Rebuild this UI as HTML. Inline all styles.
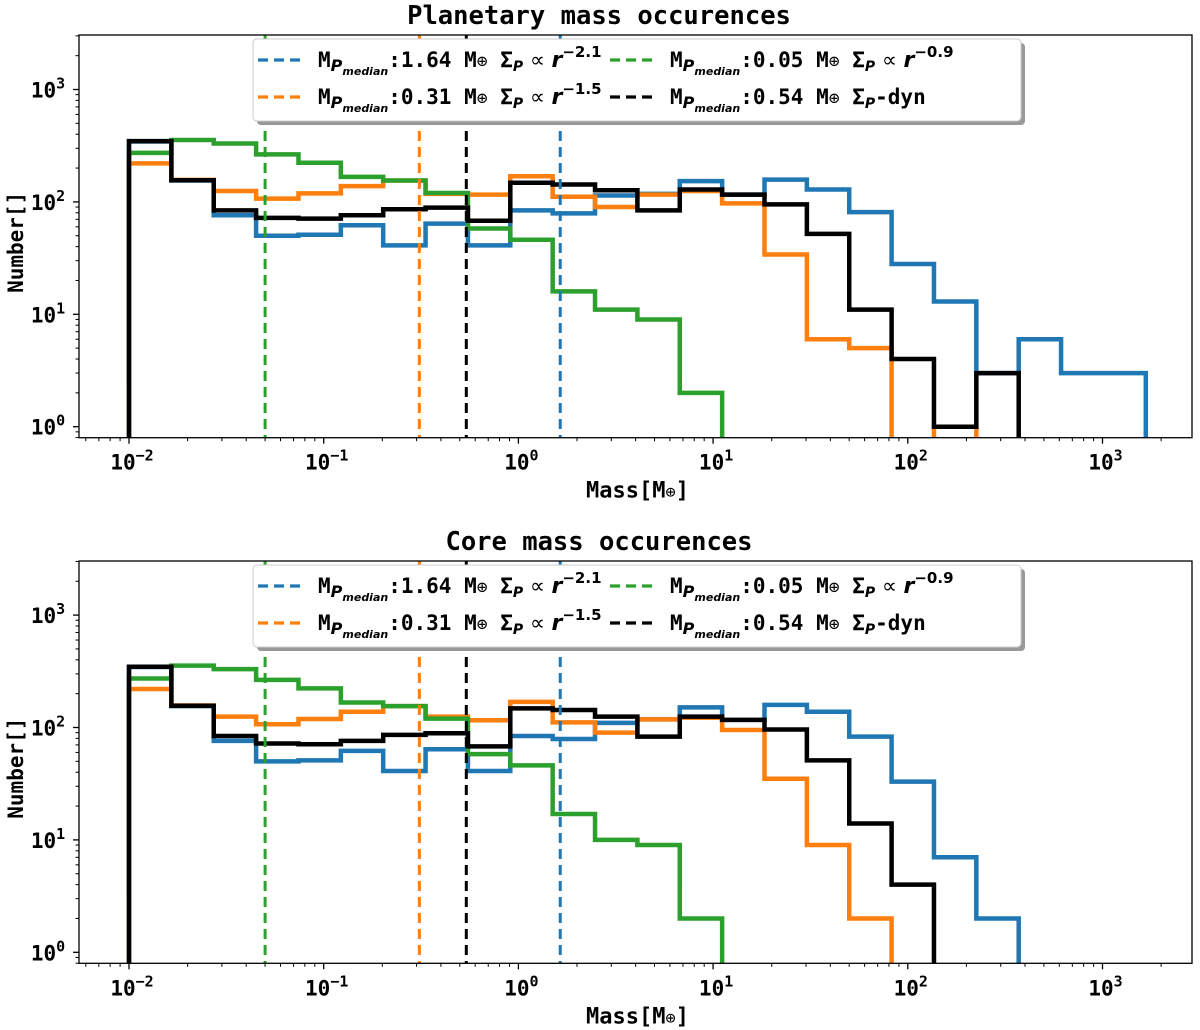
<!DOCTYPE html>
<html><head><meta charset="utf-8"><style>
body{margin:0;background:#fff;}
svg{display:block;font-family:"DejaVu Sans Mono","Liberation Mono",monospace;font-weight:bold;}
</style></head><body>
<svg id="fig" width="1200" height="1030" viewBox="0 0 1200 1030" xmlns="http://www.w3.org/2000/svg"></svg>
<script>
const colors = ['#1f77b4','#ff7f0e','#2ca02c','#000000'];
const seriesNames = ['blue','orange','green','black'];
const medians = [1.64, 0.31, 0.05, 0.54];
const exponents = ['\u22122.1','\u22121.5','\u22120.9','dyn'];
const xTickLabels = ['-2','-1','0','1','2','3'];
const yTickLabels = ['0','1','2','3'];
const panelTitles = ['Planetary mass occurences','Core mass occurences'];
const topBlue   = [345,155,76,50,51,62,41,64,41,84,79,114,118,153,116,158,129,81,28,13,3,6,3,3];
const topOrange = [220,157,125,107,119,138,155,118,116,169,111,90,116,125,97,34,6,5,0,1,0,0,0,0];
const topGreen  = [273,355,331,265,223,167,155,120,58,46,16,11,9,2,0,0,0,0,0,0,0,0,0,0];
const topBlack  = [347,156,84,72,71,76,86,89,68,148,143,127,84,129,116,95,52,11,4,1,3,0,0,0];
const botBlue   = [345,155,76,50,51,62,41,64,41,84,79,110,118,151,117,159,138,83,33,7,2,0,0,0];
const botOrange = [220,157,125,107,119,138,155,125,116,169,111,90,118,122,95,35,9,2,0,0,0,0,0,0];
const botGreen  = [273,355,331,265,223,167,155,120,58,46,17,10,9,2,0,0,0,0,0,0,0,0,0,0];
const botBlack  = [347,156,84,72,71,76,86,89,68,148,143,125,83,125,117,96,51,14,4,0,0,0,0,0];
const binLogStart = -2, binLogWidth = 0.2176, nBins = 24;

const NS='http://www.w3.org/2000/svg';
const svg=document.getElementById('fig');
function mk(tag,attrs,parent){const e=document.createElementNS(NS,tag);for(const k in attrs)e.setAttribute(k,attrs[k]);(parent||svg).appendChild(e);return e;}
const L=79,R=1192;
function xs(m){return 129+194.7*(Math.log10(m)+2);}
const panels=[{top:35,bot:437.7,y0:426.7,data:[topBlue,topOrange,topGreen,topBlack]},
              {top:561,bot:963.3,y0:952.3,data:[botBlue,botOrange,botGreen,botBlack]}];
panels.forEach((p,pi)=>{
  const ys=v=>v<=0?p.bot+20:p.y0-112.4*Math.log10(v);
  const g=mk('g',{});
  
  
  const cid='clip'+pi;
  const cp=mk('clipPath',{id:cid},g);mk('rect',{x:L,y:p.top,width:R-L,height:p.bot-p.top},cp);
  const t=mk('text',{x:599,y:p.top-11,'text-anchor':'middle','font-size':'25.5'},g);t.textContent=panelTitles[pi];
  
  
  const plot=mk('g',{'clip-path':'url(#'+cid+')'},g);
  p.data.forEach((vals,si)=>{
    const edges=[];for(let k=0;k<=nBins;k++)edges.push(xs(Math.pow(10,binLogStart+k*binLogWidth)));
    let last=nBins-1;while(last>0&&vals[last]<=0)last--;
    let d='M'+edges[0]+','+(p.bot+20);
    for(let i=0;i<=last;i++){d+=' L'+edges[i]+','+ys(vals[i])+' L'+edges[i+1]+','+ys(vals[i]);}
    d+=' L'+edges[last+1]+','+(p.bot+20);
    const path=mk('path',{d:d,fill:'none',stroke:colors[si],'stroke-width':'4.5','stroke-linejoin':'miter'},plot);
    
    
  });
  medians.forEach((m,si)=>{
    const ln=mk('line',{x1:xs(m),x2:xs(m),y1:p.top,y2:p.bot,stroke:colors[si],'stroke-width':'3','stroke-dasharray':'10,6'},plot);
    
    
  });
  const fr=mk('rect',{x:L,y:p.top,width:R-L,height:p.bot-p.top,fill:'none',stroke:'#000','stroke-width':'1.3'},g);
  
  
  for(let e=-3;e<=3;e++){for(let k=1;k<10;k++){const x=xs(k*Math.pow(10,e));if(x<L||x>R)continue;
    mk('line',{x1:x,x2:x,y1:p.bot,y2:p.bot+(k===1?6:3.5),stroke:'#000','stroke-width':k===1?1.3:1},g);}}
  xTickLabels.forEach(s=>{const x=xs(Math.pow(10,+s));
    const tx=mk('text',{x:x+3,y:p.bot+32,'text-anchor':'middle','font-size':'21'},g);
    
    
    tx.innerHTML='10<tspan dy="-9" font-size="15">'+s.replace('-','\u2212')+'</tspan>';});
  const xl=mk('text',{x:(L+R)/2+2,y:p.bot+60,'text-anchor':'middle','font-size':'22'},g);
  xl.innerHTML='Mass[M<tspan font-size="17" font-weight="normal">\u2295</tspan>]';
  
  
  for(let e=-1;e<=3;e++){for(let k=1;k<10;k++){const y=ys(k*Math.pow(10,e));if(y<p.top||y>p.bot)continue;
    mk('line',{x1:L,x2:L-(k===1?6:3.5),y1:y,y2:y,stroke:'#000','stroke-width':k===1?1.3:1},g);}}
  yTickLabels.forEach(s=>{const y=ys(Math.pow(10,+s));
    const tx=mk('text',{x:L-31,y:y+8,'text-anchor':'middle','font-size':'21'},g);
    
    
    tx.innerHTML='10<tspan dy="-9" font-size="15">'+s+'</tspan>';});
  const yl=mk('text',{x:0,y:0,'text-anchor':'middle','font-size':'21',transform:'translate(23,'+((p.top+p.bot)/2+6)+') rotate(-90)'},g);
  yl.textContent='Number[]';
  
  
  const lg=mk('g',{},g);
  
  
  const ly=p.top+4;
  mk('rect',{x:257,y:ly+4,width:768,height:82,rx:4,fill:'#999'},lg);
  mk('rect',{x:253,y:ly,width:768,height:82,rx:4,fill:'#fff',stroke:'#ccc','stroke-width':'1'},lg);
  const pos=[[256,ly+21],[256,ly+58],[608,ly+21],[608,ly+58]];
  [0,1,2,3].forEach(si=>{
    const [lx,yy]=pos[si];
    const ent=mk('g',{},lg);
    
    
    mk('line',{x1:lx+2,x2:lx+44,y1:yy,y2:yy,stroke:colors[si],'stroke-width':'3.2','stroke-dasharray':'10,6'},ent);
    const tx=mk('text',{x:lx+62,y:yy+7,'font-size':'21'},ent);
    const tail = exponents[si]==='dyn'
      ? '<tspan font-style="italic" font-family="DejaVu Sans" font-size="14" dy="4">P</tspan><tspan dy="-4">-dyn</tspan>'
      : '<tspan font-style="italic" font-family="DejaVu Sans" font-size="14" dy="4">P</tspan><tspan dy="-4" font-family="DejaVu Sans" font-weight="normal"> \u221d </tspan><tspan font-style="italic" font-family="DejaVu Sans" font-size="22">r</tspan><tspan dy="-10" font-size="15" font-family="DejaVu Sans">'+exponents[si]+'</tspan>';
    tx.innerHTML='M<tspan font-style="italic" font-family="DejaVu Sans" font-size="16" dy="4">P</tspan><tspan font-style="italic" font-family="DejaVu Sans" font-size="11" dy="4">median</tspan><tspan dy="-8">:'+medians[si].toFixed(2)+' M</tspan><tspan font-size="18" font-weight="normal">\u2295</tspan> \u03a3'+tail;
  });
});
</script>
</body></html>
